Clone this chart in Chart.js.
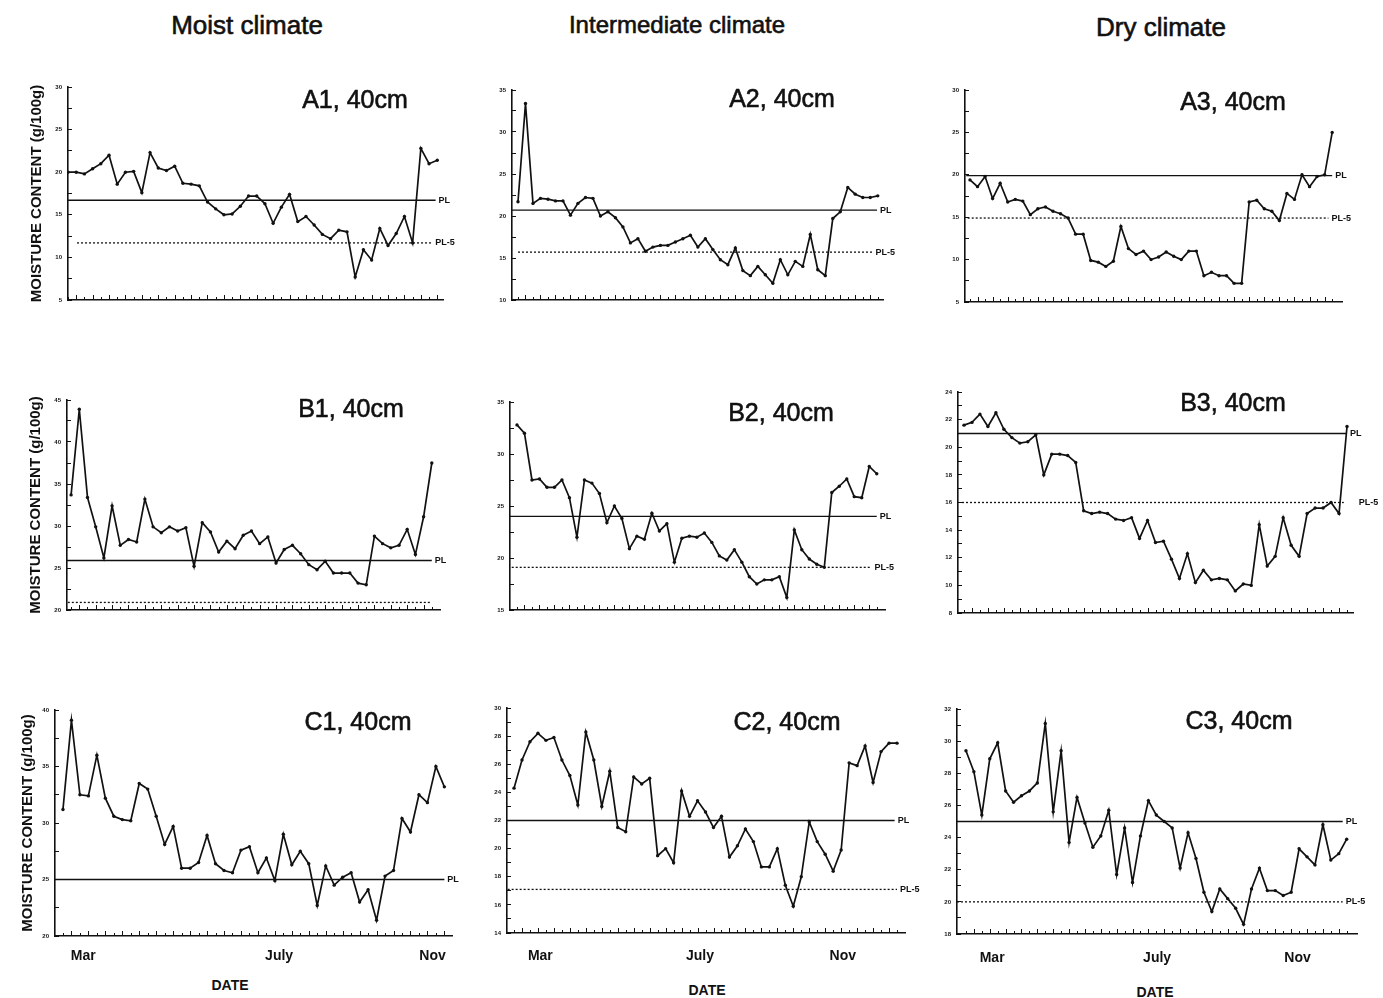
<!DOCTYPE html>
<html>
<head>
<meta charset="utf-8">
<script src="https://cdn.jsdelivr.net/npm/chart.js@4.4.0/dist/chart.umd.min.js"></script>
<style>
  html, body { margin: 0; padding: 0; background: #fff; }
  body { width: 1383px; height: 998px; overflow: hidden; position: relative;
         font-family: "Liberation Sans", Arial, Helvetica, sans-serif; color: #111; }
  .hdr { position: absolute; transform: translate(-50%, -50%); white-space: nowrap;
         -webkit-text-stroke: 0.6px #111; }
  .date { position: absolute; transform: translate(-50%, -50%); white-space: nowrap;
          font-weight: bold; font-size: 14px; }
  canvas { position: absolute; }
</style>
</head>
<body>
<script>
// weekly samples, g/100g
const a1 = [20.0,20.0,19.8,20.4,21.0,22.0,18.6,20.0,20.1,17.6,22.3,20.5,20.2,20.7,18.7,18.6,18.4,16.5,15.7,15.0,15.1,16.0,17.2,17.2,16.3,14.0,15.9,17.4,14.2,14.8,13.8,12.7,12.2,13.2,13.0,7.7,10.9,9.7,13.4,11.4,12.8,14.8,11.7,22.8,21.0,21.4];
const a2 = [21.7,33.4,21.5,22.1,22.0,21.8,21.8,20.1,21.5,22.2,22.1,20.0,20.5,19.8,18.7,16.8,17.3,15.8,16.3,16.5,16.5,16.9,17.3,17.7,16.3,17.3,16.0,14.8,14.2,16.2,13.5,12.9,14.0,13.0,12.0,14.8,13.0,14.6,14.0,17.8,13.6,12.9,19.7,20.5,23.4,22.6,22.2,22.2,22.4];
const a3 = [19.4,18.6,19.8,17.2,19.0,16.8,17.1,16.9,15.3,16.0,16.2,15.7,15.4,14.9,13.0,13.0,9.9,9.7,9.2,9.8,13.9,11.3,10.6,11.0,10.0,10.3,10.9,10.4,10.0,11.0,11.0,8.1,8.5,8.1,8.1,7.2,7.2,16.8,17.0,16.0,15.7,14.6,17.8,17.1,20.0,18.6,19.8,20.0,25.0];
const b1 = [33.7,43.9,33.4,29.9,26.2,32.4,27.7,28.4,28.1,33.2,29.9,29.2,29.9,29.4,29.8,25.2,30.4,29.3,26.9,28.2,27.3,28.9,29.4,27.9,28.7,25.6,27.2,27.7,26.7,25.4,24.8,25.8,24.4,24.4,24.4,23.2,23.0,28.8,27.9,27.4,27.7,29.6,26.6,31.1,37.5];
const b2 = [32.8,32.0,27.5,27.6,26.8,26.8,27.5,25.8,22.0,27.5,27.2,26.2,23.4,25.0,23.8,20.9,22.1,21.8,24.3,22.6,23.3,19.6,21.9,22.1,22.0,22.4,21.5,20.2,19.8,20.8,19.6,18.2,17.5,17.9,17.9,18.2,16.2,22.7,20.8,19.9,19.4,19.1,26.3,26.9,27.6,25.9,25.8,28.8,28.1];
const b3 = [21.6,21.8,22.4,21.5,22.5,21.3,20.7,20.3,20.4,20.9,18.0,19.5,19.5,19.4,18.9,15.4,15.2,15.3,15.2,14.8,14.7,14.9,13.4,14.7,13.1,13.2,11.9,10.5,12.3,10.2,11.1,10.4,10.5,10.4,9.6,10.1,10.0,14.4,11.4,12.1,14.9,12.9,12.1,15.2,15.6,15.6,16.0,15.2,21.5];
const c1 = [31.2,39.1,32.5,32.4,36.0,32.2,30.6,30.3,30.2,33.5,33.0,30.6,28.1,29.7,26.0,26.0,26.5,28.9,26.4,25.8,25.6,27.6,27.9,25.6,26.9,24.9,29.0,26.3,27.5,26.4,22.7,26.2,24.5,25.2,25.6,23.0,24.1,21.4,25.3,25.8,30.4,29.2,32.5,31.8,35.0,33.2];
const c2 = [24.3,26.3,27.6,28.2,27.7,27.9,26.3,25.2,23.1,28.3,26.3,23.0,25.5,21.5,21.2,25.1,24.6,25.0,19.5,20.0,19.0,24.1,22.3,23.4,22.6,21.5,22.3,19.4,20.2,21.4,20.5,18.7,18.7,20.0,17.4,15.9,18.0,21.9,20.5,19.6,18.4,19.9,26.1,25.9,27.3,24.7,26.9,27.5,27.5];
const c3 = [29.4,28.1,25.4,28.9,29.9,26.9,26.2,26.6,26.9,27.4,31.1,25.6,29.4,23.7,26.5,24.9,23.4,24.1,25.7,21.7,24.6,21.2,24.1,26.3,25.4,25.0,24.6,22.1,24.3,22.7,20.6,19.4,20.8,20.2,19.6,18.6,20.8,22.1,20.7,20.7,20.4,20.6,23.3,22.8,22.3,24.8,22.6,23.0,23.9];

// plastic limit and PL-5 per panel (null = not drawn)
const plValues  = [16.7, 20.7, 19.9, 25.9, 24.0, 21.0, 25.0, 22.0, 25.0];
const pl5Values = [11.7, 15.7, 14.9, 20.9, 19.1, 16.0, null, 17.1, 20.0];
const pl5Labels = [true, true, true, false, true, true, false, true, true];

const panelNames = ['A1, 40cm','A2, 40cm','A3, 40cm','B1, 40cm','B2, 40cm','B3, 40cm','C1, 40cm','C2, 40cm','C3, 40cm'];
const columnNames = ['Moist climate', 'Intermediate climate', 'Dry climate'];
const monthLabels = ['Mar', 'July', 'Nov'];
const yTitle = 'MOISTURE CONTENT (g/100g)';
const xTitle = 'DATE';

const series = [a1, a2, a3, b1, b2, b3, c1, c2, c3];

// layout: plot box [axisX, topY, rightX, bottomY] in page pixels, x range in sample units
const panels = [
  { box: [68, 87, 443, 300],   y: [5, 30, 5],  x: [0, 45.7],     pl: [0, 44.8],      pl5: [1.1, 44.4],   t: [355, 99] },
  { box: [512, 90, 883, 300],  y: [10, 35, 5], x: [-0.8, 48.7],  pl: [-0.8, 47.9],   pl5: [0, 47.3],     t: [782, 98] },
  { box: [965, 90, 1342, 302], y: [5, 30, 5],  x: [-0.66, 49.3], pl: [-0.5, 48],     pl5: [-0.3, 47.5],  t: [1233, 101] },
  { box: [67, 400, 440, 610],  y: [20, 45, 5], x: [-0.5, 45],    pl: [-0.5, 44],     pl5: [-0.4, 43.8],  t: [351, 408] },
  { box: [510, 402, 885, 610], y: [15, 35, 5], x: [-0.93, 49.1], pl: [-0.93, 48],    pl5: [-0.7, 47.3],  t: [781, 412] },
  { box: [958, 392, 1353, 613],y: [8, 24, 2],  x: [-0.75, 48.75],pl: [-0.75, 48],    pl5: [-0.25, 47.6], t: [1233, 402], pl5dx: 12 },
  { box: [55, 710, 452, 936],  y: [20, 40, 5], x: [-0.94, 45.9], pl: [-0.94, 45],    pl5: null,          t: [358, 721], months: [2.4, 25.5, 43.6], mpad: 12, date: [230, 985] },
  { box: [507, 708, 905, 933], y: [14, 30, 2], x: [-0.88, 49],   pl: [-0.88, 47.7],  pl5: [-0.8, 48],    t: [787, 721], months: [3.3, 23.3, 41.2], mpad: 15, date: [707, 990] },
  { box: [957, 709, 1357, 934],y: [18, 32, 2], x: [-1.13, 49.3], pl: [-1.13, 47.5],  pl5: [-1.13, 47.5], t: [1239, 720], months: [3.3, 24.1, 41.8], mpad: 16, date: [1155, 992] }
];
const headerPos = [[247, 25, 26], [677, 25, 24], [1161, 27, 26]];

const ink = '#111';
const fontFamily = '"Liberation Sans", Arial, Helvetica, sans-serif';

// small upward ticks at every sample on the x axis
const weekTicks = {
  id: 'weekTicks',
  afterDatasetsDraw(chart) {
    const xs = chart.scales.x;
    const y0 = chart.chartArea.bottom;
    const n = chart.data.datasets[0].data.length;
    const ctx = chart.ctx;
    ctx.save();
    ctx.strokeStyle = ink;
    ctx.lineWidth = 1;
    for (let k = 0; k < n; k++) {
      const px = Math.round(xs.getPixelForValue(k)) + 0.5;
      ctx.beginPath();
      ctx.moveTo(px, y0);
      ctx.lineTo(px, y0 - (k % 2 ? 5 : 3));
      ctx.stroke();
    }
    ctx.restore();
  }
};

// "PL" / "PL-5" text at the right end of the reference lines
const plLabels = {
  id: 'plLabels',
  afterDatasetsDraw(chart) {
    const ctx = chart.ctx;
    ctx.save();
    ctx.fillStyle = ink;
    ctx.font = 'bold 9px ' + fontFamily;
    ctx.textBaseline = 'middle';
    chart.data.datasets.forEach((ds, i) => {
      if (!ds.tag) return;
      const pts = chart.getDatasetMeta(i).data;
      const last = pts[pts.length - 1];
      ctx.fillText(ds.tag, last.x + 3 + (ds.tagDx || 0), last.y);
    });
    ctx.restore();
  }
};

function addText(txt, x, y, size, cls) {
  const d = document.createElement('div');
  d.className = cls || 'hdr';
  d.textContent = txt;
  d.style.left = x + 'px';
  d.style.top = y + 'px';
  if (size) d.style.fontSize = size + 'px';
  document.body.appendChild(d);
}

function noPad(s) {
  s.paddingTop = 0; s.paddingBottom = 0; s.paddingLeft = 0; s.paddingRight = 0;
}

columnNames.forEach((name, i) => addText(name, headerPos[i][0], headerPos[i][1], headerPos[i][2]));

panels.forEach((p, i) => {
  const col = i % 3, row = Math.floor(i / 3);
  const [L, T, R, B] = p.box;
  const YW = col === 0 ? 48 : 26;
  const PT = 8, PR = 34;
  const XH = row === 2 ? 40 : 6;
  const w = R - L + YW + PR, h = B - T + PT + XH;

  const cv = document.createElement('canvas');
  cv.width = w; cv.height = h;
  cv.style.left = (L - YW) + 'px';
  cv.style.top = (T - PT) + 'px';
  cv.style.width = w + 'px';
  cv.style.height = h + 'px';
  document.body.appendChild(cv);

  const datasets = [{
    data: series[i].map((v, k) => ({ x: k, y: v })),
    borderColor: ink, borderWidth: 1.7, tension: 0,
    pointRadius: 1.7, pointBackgroundColor: ink, pointBorderWidth: 0
  }, {
    data: [{ x: p.pl[0], y: plValues[i] }, { x: p.pl[1], y: plValues[i] }],
    borderColor: ink, borderWidth: 1.4, pointRadius: 0, tag: 'PL'
  }];
  if (p.pl5 && pl5Values[i] !== null) {
    datasets.push({
      data: [{ x: p.pl5[0], y: pl5Values[i] }, { x: p.pl5[1], y: pl5Values[i] }],
      borderColor: ink, borderWidth: 1.3, borderDash: [2, 2], pointRadius: 0,
      tag: pl5Labels[i] ? 'PL-5' : null, tagDx: p.pl5dx || 0
    });
  }

  const [yMin, yMax, step] = p.y;
  const yTitleDist = col === 0 ? (row === 2 ? 27 : 31) : 0;
  const yTitleSize = 15;

  new Chart(cv, {
    type: 'line',
    data: { datasets },
    options: {
      responsive: false,
      animation: false,
      devicePixelRatio: 1,
      layout: { padding: { left: 0, top: PT, right: PR, bottom: 0 } },
      plugins: { legend: { display: false }, tooltip: { enabled: false } },
      scales: {
        x: {
          type: 'linear',
          min: p.x[0], max: p.x[1],
          afterFit(s) { s.height = XH; noPad(s); },
          afterBuildTicks(s) {
            s.ticks = row === 2 ? p.months.map(v => ({ value: v })) : [];
          },
          grid: { display: false, drawTicks: false },
          border: { display: true, color: ink, width: 1.6 },
          ticks: {
            display: row === 2,
            autoSkip: false, maxRotation: 0,
            padding: p.mpad || 0,
            color: ink,
            font: { family: fontFamily, size: 14, weight: 'bold' },
            callback: (v) => {
              const k = (p.months || []).indexOf(v);
              return k >= 0 ? monthLabels[k] : '';
            }
          }
        },
        y: {
          min: yMin, max: yMax,
          afterFit(s) { s.width = YW; noPad(s); },
          grid: { drawOnChartArea: false, tickLength: -4, color: ink, lineWidth: 1 },
          border: { display: true, color: ink, width: 1.6 },
          ticks: {
            stepSize: step / 2,
            autoSkip: false,
            padding: 10,
            color: ink,
            font: { family: fontFamily, size: 6, weight: 'bold' },
            callback: (v) => (Math.abs(v % step) < 1e-6 ? v : '')
          },
          title: {
            display: col === 0,
            text: yTitle,
            color: ink,
            padding: { top: YW - yTitleDist - yTitleSize * 0.6, bottom: 0 },
            font: { family: fontFamily, size: yTitleSize, weight: 'bold' }
          }
        }
      }
    },
    plugins: [weekTicks, plLabels]
  });

  addText(panelNames[i], p.t[0], p.t[1], 25);
  if (p.date) addText(xTitle, p.date[0], p.date[1], null, 'date');
});
</script>
</body>
</html>
